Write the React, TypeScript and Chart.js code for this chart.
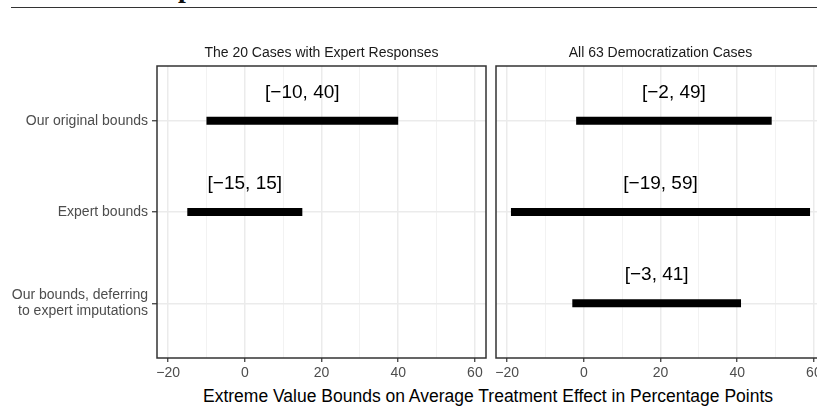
import React, { useEffect, useRef } from "react";
import { Chart, registerables } from "chart.js";

Chart.register(...registerables);

const FONT = "'Liberation Sans', Arial, Helvetica, sans-serif";

// ---- data ----
const categoryLabels: (string | string[])[] = [
  "Our original bounds",
  "Expert bounds",
  ["Our bounds, deferring", "to expert imputations"],
];
const panelTitles = ["The 20 Cases with Expert Responses", "All 63 Democratization Cases"];
const expertLower: (number | null)[] = [-10, -15, null];
const expertUpper: (number | null)[] = [40, 15, null];
const allLower: (number | null)[] = [-2, -19, -3];
const allUpper: (number | null)[] = [49, 59, 41];
const xMajorTicks = [-20, 0, 20, 40, 60];
const xMinorTicks = [-10, 10, 30, 50];
const xMin = -22.9;
const xMax = 62.9;
const xAxisTitle = "Extreme Value Bounds on Average Treatment Effect in Percentage Points";

const fmt = (v: number) => (v < 0 ? "\u2212" + Math.abs(v) : String(v));

function buildDatasets(lower: (number | null)[], upper: (number | null)[]) {
  const ds: any[] = [];
  lower.forEach((lo, i) => {
    const hi = upper[i];
    if (lo === null || hi === null) return;
    ds.push({
      type: "line",
      data: [
        { x: lo, y: i + 1 },
        { x: hi, y: i + 1 },
      ],
      borderColor: "#000000",
      backgroundColor: "#000000",
      borderWidth: 8,
      borderCapStyle: "butt",
      pointRadius: 0,
      pointHoverRadius: 0,
      fill: false,
      label: `[${fmt(lo)}, ${fmt(hi)}]`,
      lo,
      hi,
      row: i + 1,
    });
  });
  return ds;
}

function makeConfig(panel: number, lower: (number | null)[], upper: (number | null)[]): any {
  const showY = panel === 0;
  const overlay = {
    id: "overlay" + panel,
    afterDatasetsDraw(chart: any) {
      const { ctx, chartArea, scales } = chart;
      const xs = scales.x;
      const ys = scales.y;
      ctx.save();
      // bound labels
      ctx.font = `19px ${FONT}`;
      ctx.fillStyle = "#000000";
      ctx.textAlign = "center";
      ctx.textBaseline = "alphabetic";
      chart.data.datasets.forEach((d: any) => {
        const x = xs.getPixelForValue((d.lo + d.hi) / 2);
        const y = ys.getPixelForValue(d.row - 0.25);
        ctx.fillText(d.label, x, y);
      });
      // panel border
      ctx.strokeStyle = "#333333";
      ctx.lineWidth = 1.5;
      ctx.strokeRect(chartArea.left, chartArea.top, chartArea.right - chartArea.left, chartArea.bottom - chartArea.top);
      // strip title
      ctx.font = `14px ${FONT}`;
      ctx.fillStyle = "#1a1a1a";
      ctx.textAlign = "center";
      ctx.fillText(panelTitles[panel], (chartArea.left + chartArea.right) / 2, 56.5);
      ctx.restore();
    },
  };
  return {
    type: "scatter",
    data: { datasets: buildDatasets(lower, upper) },
    options: {
      animation: false,
      responsive: false,
      devicePixelRatio: 1,
      showLine: true,
      events: [],
      layout: {
        padding: panel === 0 ? { top: 66, right: 4, bottom: 0, left: 0 } : { top: 66, right: 5, bottom: 0, left: 6 },
      },
      plugins: {
        legend: { display: false },
        tooltip: { enabled: false },
        title: { display: false },
      },
      scales: {
        x: {
          type: "linear",
          position: "bottom",
          min: xMin,
          max: xMax,
          afterBuildTicks: (s: any) => {
            s.ticks = [...xMajorTicks, ...xMinorTicks].sort((a, b) => a - b).map((v) => ({ value: v }));
          },
          afterFit: (s: any) => {
            s.height = 22;
            s.paddingLeft = 0;
            s.paddingRight = 0;
          },
          ticks: {
            autoSkip: false,
            maxRotation: 0,
            minRotation: 0,
            padding: 3,
            color: "#4d4d4d",
            font: { family: FONT, size: 14 },
            callback: (v: any) => (xMajorTicks.includes(v) ? fmt(v) : ""),
          },
          grid: {
            drawOnChartArea: true,
            drawTicks: true,
            tickLength: 4,
            color: (c: any) => (c.tick && xMajorTicks.includes(c.tick.value) ? "#ebebeb" : "#f1f1f1"),
            lineWidth: (c: any) => (c.tick && xMajorTicks.includes(c.tick.value) ? 1.5 : 0.9),
            tickColor: (c: any) => (c.tick && xMajorTicks.includes(c.tick.value) ? "#333333" : "rgba(0,0,0,0)"),
            tickWidth: 1.2,
          },
          border: { display: false },
        },
        y: {
          type: "linear",
          position: "left",
          reverse: true,
          min: 0.4,
          max: 3.6,
          afterBuildTicks: (s: any) => {
            s.ticks = categoryLabels.map((_, i) => ({ value: i + 1 }));
          },
          afterFit: (s: any) => {
            s.width = showY ? 157 : 0;
          },
          ticks: {
            display: showY,
            autoSkip: false,
            padding: 4,
            color: "#4d4d4d",
            font: { family: FONT, size: 14, lineHeight: 1.15 },
            callback: (v: any) => categoryLabels[Math.round(v) - 1] ?? "",
          },
          grid: {
            drawTicks: showY,
            tickLength: 5,
            color: "#ebebeb",
            lineWidth: 1.5,
            tickColor: "#333333",
            tickWidth: 1.2,
          },
          border: { display: false },
        },
      },
    },
    plugins: [overlay],
  };
}

function Panel({ panel, left, width, lower, upper }: any) {
  const ref = useRef<HTMLCanvasElement | null>(null);
  useEffect(() => {
    if (!ref.current) return;
    const chart = new Chart(ref.current, makeConfig(panel, lower, upper));
    return () => chart.destroy();
  }, []);
  return (
    <canvas
      ref={ref}
      width={width}
      height={380}
      style={{ position: "absolute", left, top: 0, width, height: 380 }}
    />
  );
}

export default function App() {
  return (
    <div
      style={{
        position: "fixed",
        left: 0,
        top: 0,
        width: 817,
        height: 420,
        overflow: "hidden",
        background: "#ffffff",
        fontFamily: FONT,
      }}
    >
      <div
        style={{
          position: "absolute",
          left: 178,
          top: -27.5,
          fontFamily: "'Liberation Serif', 'DejaVu Serif', serif",
          fontWeight: "bold",
          fontSize: 28,
          lineHeight: "30px",
          color: "#111",
        }}
      >
        p
      </div>
      <div
        style={{
          position: "absolute",
          left: 11,
          top: 7,
          width: 806,
          height: 1,
          background: "#333333",
        }}
      />
      <Panel panel={0} left={0} width={490} lower={expertLower} upper={expertUpper} />
      <Panel panel={1} left={490} width={340} lower={allLower} upper={allUpper} />
      <div
        style={{
          position: "absolute",
          left: 88,
          width: 800,
          top: 386,
          textAlign: "center",
          fontSize: 17.5,
          lineHeight: "20px",
          color: "#000000",
          whiteSpace: "nowrap",
        }}
      >
        {xAxisTitle}
      </div>
    </div>
  );
}
